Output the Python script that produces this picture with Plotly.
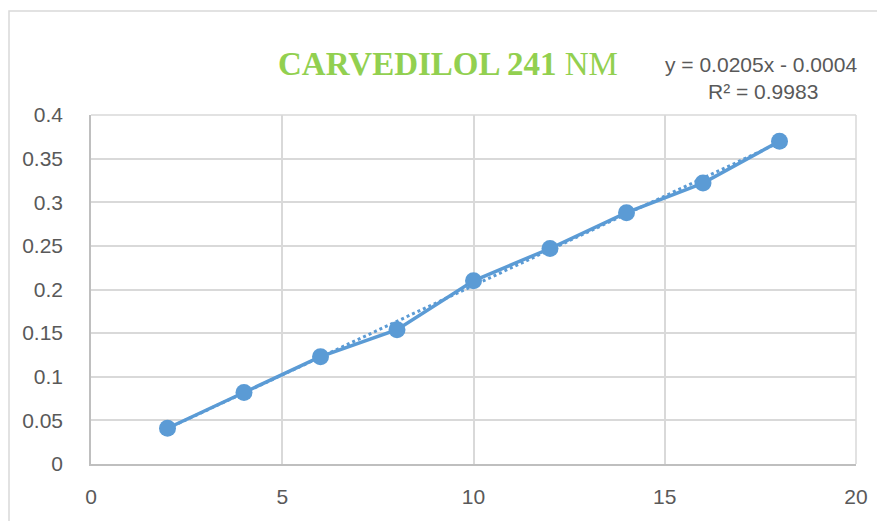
import plotly.graph_objects as go

conc = [2, 4, 6, 8, 10, 12, 14, 16, 18]
absorb = [0.041, 0.082, 0.123, 0.154, 0.210, 0.247, 0.288, 0.322, 0.370]
slope = 0.0205
intercept = -0.0004
trend_x = [2, 18]
trend_y = [slope * x + intercept for x in trend_x]

y_ticks = [0, 0.05, 0.1, 0.15, 0.2, 0.25, 0.3, 0.35, 0.4]
y_labels = ["0", "0.05", "0.1", "0.15", "0.2", "0.25", "0.3", "0.35", "0.4"]
x_ticks = [0, 5, 10, 15, 20]
x_labels = ["0", "5", "10", "15", "20"]

blue = "#5b9bd5"
fig = go.Figure()
fig.add_trace(go.Scatter(x=trend_x, y=trend_y, mode="lines",
                         line=dict(color=blue, width=3, dash="dot"),
                         showlegend=False, hoverinfo="skip"))
fig.add_trace(go.Scatter(x=conc, y=absorb, mode="lines+markers",
                         line=dict(color=blue, width=3.5),
                         marker=dict(color=blue, size=17),
                         showlegend=False))

OFF = 8  # page body margin
PW, PH = 885, 521
L, R, T, B = 91, 29, 115, 57
W, H = PW - OFF, PH - OFF
pw, ph = PW - L - R, PH - T - B

def px(x):
    return (x - L) / pw

def py(y):
    return (PH - B - y) / ph

fig.update_layout(
    width=W, height=H,
    margin=dict(l=L - OFF, r=R, t=T - OFF, b=B, autoexpand=False),
    paper_bgcolor="white", plot_bgcolor="white",
    font=dict(family="Liberation Sans, Arial", color="#595959", size=21),
    xaxis=dict(range=[0, 20], tickvals=x_ticks, ticktext=x_labels,
               showgrid=True, gridcolor="#d9d9d9", gridwidth=1.5,
               zeroline=False, showline=True, linecolor="#bfbfbf", linewidth=1.5,
               mirror=False, ticks="", ticklabelstandoff=13, automargin=False,
               tickfont=dict(size=21, color="#595959")),
    yaxis=dict(range=[0, 0.4], tickvals=y_ticks, ticktext=y_labels,
               showgrid=True, gridcolor="#d9d9d9", gridwidth=1.5,
               zeroline=False, showline=True, linecolor="#bfbfbf", linewidth=1.5,
               ticks="", ticklabelstandoff=22, automargin=False,
               tickfont=dict(size=21, color="#595959")),
    shapes=[
        dict(type="rect", xref="paper", yref="paper",
             x0=px(9), x1=px(PW + 10), y0=py(PH + 10), y1=py(11),
             line=dict(color="#d9d9d9", width=1.5), fillcolor="rgba(0,0,0,0)", layer="below"),
        dict(type="line", xref="paper", yref="paper", x0=1, x1=1, y0=0, y1=1,
             line=dict(color="#d9d9d9", width=1.5)),
        dict(type="line", xref="paper", yref="paper", x0=0, x1=1, y0=1, y1=1,
             line=dict(color="#d9d9d9", width=1.5)),
    ],
    annotations=[
        dict(text="<b>CARVEDILOL 241</b> NM", xref="paper", yref="paper",
             x=px(448), y=py(64), xanchor="center", yanchor="middle", showarrow=False,
             font=dict(family="Liberation Serif, Times New Roman", size=33, color="#92d050")),
        dict(text="y = 0.0205x - 0.0004", xref="paper", yref="paper",
             x=px(761), y=py(64), xanchor="center", yanchor="middle", showarrow=False,
             font=dict(size=21, color="#595959")),
        dict(text="R² = 0.9983", xref="paper", yref="paper",
             x=px(763), y=py(92), xanchor="center", yanchor="middle", showarrow=False,
             font=dict(size=21, color="#595959")),
    ],
)
fig.write_html("out.html")
